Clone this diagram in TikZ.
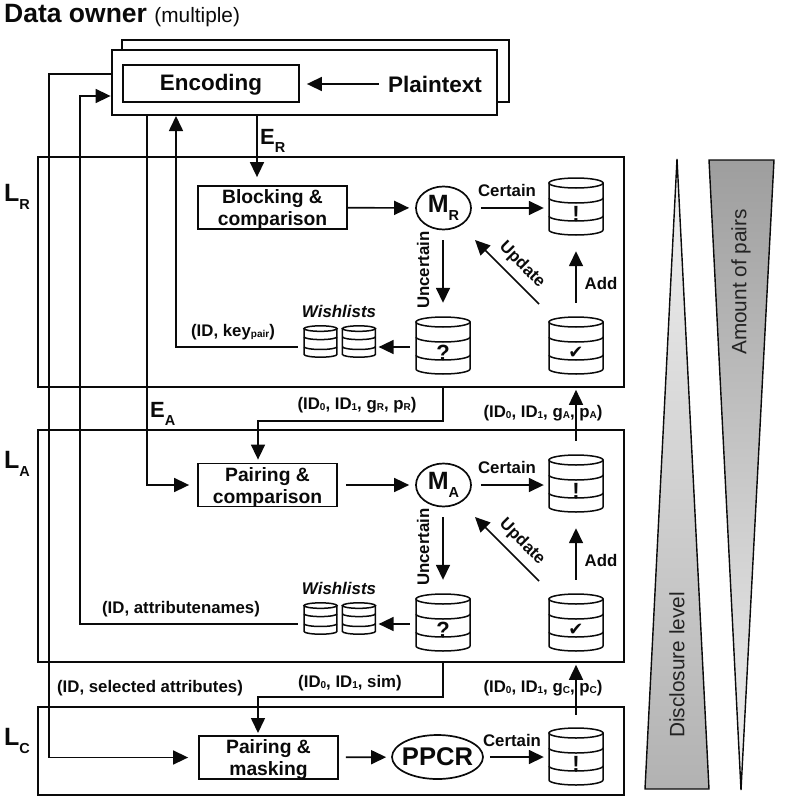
\documentclass[tikz,border=0pt]{standalone}
\usepackage{fontspec}
\setmainfont{Liberation Sans}
\newfontfamily\dingfont{DejaVu Sans}
\usetikzlibrary{positioning,arrows.meta,calc,shapes.geometric}
\definecolor{ink}{RGB}{10,10,10}
\definecolor{sidetext}{RGB}{35,35,35}
\definecolor{shadelight}{RGB}{242,242,242}
\definecolor{shademid}{RGB}{178,178,178}
\definecolor{shadedark}{RGB}{158,158,158}
\newcommand{\lowtag}[1]{\raisebox{-1.5pt}{\fontsize{10}{10}\selectfont #1}}
\newcommand{\lowbig}[1]{\raisebox{-8pt}{\fontsize{14.5}{14.5}\selectfont #1}}
\tikzset{
  x=1pt, y=-1pt,
  pane/.style={draw=ink, fill=white, line width=2.8pt, inner sep=0pt},
  layerbox/.style={draw=ink, line width=2.8pt, inner sep=0pt},
  box/.style={draw=ink, fill=white, line width=1.8pt, inner sep=0pt},
  boxtext/.style={align=center, inner sep=0pt, text=ink, yshift=-2.5pt,
    font=\fontsize{19.3}{22}\selectfont\bfseries},
  merger/.style={ellipse, draw=ink, fill=white, line width=1.7pt, inner sep=0pt,
    text=ink, font=\fontsize{25}{25}\selectfont\bfseries},
  dbnode/.style={inner sep=0pt, minimum width=54, minimum height=67},
  wishnode/.style={inner sep=0pt, minimum width=33, minimum height=37},
  dbmark/.style={inner sep=0pt, text=ink, yshift=-7pt,
    font=\fontsize{22}{22}\selectfont\bfseries},
  tag/.style={inner sep=0pt, text=ink, font=\fontsize{16.8}{18}\selectfont\bfseries},
  bigtag/.style={inner sep=0pt, text=ink, anchor=base west,
    font=\fontsize{25}{25}\selectfont\bfseries},
  sidetag/.style={inner sep=0pt, text=sidetext, rotate=90,
    font=\fontsize{20.8}{22}\selectfont},
  tri/.style={draw=ink, line width=1.4pt, line join=miter},
  flow/.style={-{Triangle[length=15pt,width=14pt]}, line width=1.6pt, draw=ink},
  storeline/.style={draw=ink, fill=white, line width=1.5pt},
  pics/store/.style={code={
    \draw[storeline] (-27,-23.5) -- (-27,23.5)
      arc[start angle=180,end angle=0,x radius=27,y radius=5] -- (27,-23.5) -- cycle;
    \draw[storeline] (0,-23.5) ellipse [x radius=27,y radius=5];
    \draw[storeline, fill=none] (-27,-8.5) arc[start angle=180,end angle=0,x radius=27,y radius=5];
    \draw[storeline, fill=none] (-27,9.5) arc[start angle=180,end angle=0,x radius=27,y radius=5];
  }},
}
\begin{document}
\begin{tikzpicture}
  \useasboundingbox (0,0) rectangle (784,800);
  % data owner
  \node[bigtag, font=\fontsize{26.5}{28}\selectfont\bfseries] (dow) at (4,22.5) {Data owner};
  \node[inner sep=0pt, text=ink, font=\fontsize{20.8}{21}\selectfont, base right=7pt of dow] (dowm) {(multiple)};
  \node[pane, minimum width=387, minimum height=62] (back) at (315.5,71) {};
  \node[pane, minimum width=385, minimum height=65] (front) at (304.5,82.5) {};
  \node[box, minimum width=176, minimum height=37] (enc) at (211,83.5) {};
  \node[boxtext, yshift=1pt, font=\fontsize{22.4}{24}\selectfont\bfseries] (enct) at (enc) {Encoding};
  \node[tag, font=\fontsize{22.5}{24}\selectfont\bfseries] (pt) at (435,84) {Plaintext};
  \draw[flow, shorten <=9pt, shorten >=7pt] (pt.west) -- (pt.west -| enc.east);
  % layers
  \node[layerbox, minimum width=586, minimum height=230] (lr) at (331,272) {};
  \node[layerbox, minimum width=586, minimum height=232] (la) at (331,546) {};
  \node[layerbox, minimum width=586, minimum height=88] (lc) at (331,751) {};
  \node[bigtag] (nr) at (4,201) {L\lowbig{R}};
  \node[bigtag] (na) at (4,468) {L\lowbig{A}};
  \node[bigtag] (nc) at (4,745) {L\lowbig{C}};
  % record level
  \node[box, minimum width=149, minimum height=43] (bc) at (272.5,207.5) {};
  \node[boxtext] (bct) at (bc) {Blocking \&\\comparison};
  \node[merger, minimum width=55, minimum height=43] (mr) at (443.5,208) {M\lowbig{R}};
  \node[dbnode] (cr) at (576,206.5) {};
  \node[dbnode] (qr) at (443,345.5) {};
  \node[dbnode] (kr) at (576,345.5) {};
  \node[wishnode] (wr1) at (320.5,341.5) {};
  \node[wishnode, right=5pt of wr1] (wr2) {};
  \pic at (cr) {store};
  \pic at (qr) {store};
  \pic at (kr) {store};
  \pic[xscale=.61, yscale=.55] at (wr1) {store};
  \pic[xscale=.61, yscale=.55] at (wr2) {store};
  \node[dbmark] (cr0) at (cr) {!};
  \node[dbmark] (qr0) at (qr) {?};
  \node[dbmark, font=\dingfont\fontsize{18}{18}\selectfont] (kr0) at (kr) {✔};
  \node[tag, font=\fontsize{16.9}{18}\selectfont\bfseries\itshape] (wrt) at (339,311) {Wishlists};
  \node[tag] (crt) at (507,190) {Certain};
  \node[tag, rotate=90] (qrt) at (423,270) {Uncertain};
  \node[tag, rotate=-45] (upr) at (522,265) {Update};
  \node[tag] (addr) at (601,283) {Add};
  \node[tag] (krt) at (233,332) {(ID, key\lowtag{pair})};
  \coordinate (wy) at (0,347);
  \coordinate (railk) at (176,116);
  \coordinate (ur1) at (539,304);
  \coordinate (ur2) at (475,240);
  \draw[flow, shorten >=8pt] (front.south -| 257,0) -- (bc.north -| 257,0);
  \draw[flow, shorten >=6pt] (bc) -- (mr);
  \draw[flow, shorten <=9pt, shorten >=5pt] (mr) -- (cr.west |- mr);
  \draw[flow, shorten <=10pt, shorten >=9pt] (mr.south -| qr) -- (qr.north);
  \draw[flow, shorten <=6pt, shorten >=3pt] (qr.west |- wy) -- (wr2.east |- wy);
  \draw[flow, shorten <=9pt, shorten >=11pt] (kr.north) -- (cr.south);
  \draw[flow] (ur1) -- (ur2);
  \draw[flow, shorten <=6pt] (wr1.west |- wy) -- (wy -| railk) -- (railk);
  % attribute level
  \node[tag, font=\fontsize{22}{22}\selectfont\bfseries, anchor=base west] (er) at (260,144.5) {E\lowbig{R}};
  \node[tag, font=\fontsize{22}{22}\selectfont\bfseries, anchor=base west] (ea) at (150,417) {E\lowbig{A}};
  \node[box, minimum width=139, minimum height=43] (pa) at (267.5,485) {};
  \node[boxtext] (pat) at (pa) {Pairing \&\\comparison};
  \node[merger, minimum width=55, minimum height=43] (ma) at (443.5,485) {M\lowbig{A}};
  \node[dbnode] (ca) at (576,483.5) {};
  \node[dbnode] (qa) at (443,622.5) {};
  \node[dbnode] (ka) at (576,622.5) {};
  \node[wishnode] (wa1) at (320.5,618.5) {};
  \node[wishnode, right=5pt of wa1] (wa2) {};
  \pic at (ca) {store};
  \pic at (qa) {store};
  \pic at (ka) {store};
  \pic[xscale=.61, yscale=.55] at (wa1) {store};
  \pic[xscale=.61, yscale=.55] at (wa2) {store};
  \node[dbmark] (ca0) at (ca) {!};
  \node[dbmark] (qa0) at (qa) {?};
  \node[dbmark, font=\dingfont\fontsize{18}{18}\selectfont] (ka0) at (ka) {✔};
  \node[tag, font=\fontsize{16.9}{18}\selectfont\bfseries\itshape] (wat) at (339,588) {Wishlists};
  \node[tag] (cat) at (507,467) {Certain};
  \node[tag, rotate=90] (qat) at (423,547) {Uncertain};
  \node[tag, rotate=-45] (upa) at (522,542) {Update};
  \node[tag] (adda) at (601,560) {Add};
  \node[tag] (kat) at (181,609) {(ID, attributenames)};
  \coordinate (wz) at (0,624);
  \coordinate (raila) at (80,96);
  \coordinate (ua1) at (539,581);
  \coordinate (ua2) at (475,517);
  \draw[flow, shorten <=8pt, shorten >=6pt] (pa) -- (ma);
  \draw[flow, shorten <=9pt, shorten >=5pt] (ma) -- (ca.west |- ma);
  \draw[flow, shorten <=10pt, shorten >=9pt] (ma.south -| qa) -- (qa.north);
  \draw[flow, shorten <=6pt, shorten >=3pt] (qa.west |- wz) -- (wa2.east |- wz);
  \draw[flow, shorten <=9pt, shorten >=11pt] (ka.north) -- (ca.south);
  \draw[flow] (ua1) -- (ua2);
  \draw[flow, shorten <=6pt] (wa1.west |- wz) -- (wz -| raila) -- (raila) -- (raila -| front.west);
  \coordinate (raile) at (147,115);
  \draw[flow, shorten >=8pt] (raile) -- (raile |- pa) -- (pa);
  % between layers
  \node[tag] (gr) at (357,405) {(ID\lowtag{0}, ID\lowtag{1}, g\lowtag{R}, p\lowtag{R})};
  \node[tag] (ga) at (543,413) {(ID\lowtag{0}, ID\lowtag{1}, g\lowtag{A}, p\lowtag{A})};
  \node[tag] (gs) at (350,683) {(ID\lowtag{0}, ID\lowtag{1}, sim)};
  \node[tag] (gc) at (543,688) {(ID\lowtag{0}, ID\lowtag{1}, g\lowtag{C}, p\lowtag{C})};
  \node[tag] (sel) at (150,688) {(ID, selected attributes)};
  \coordinate (ta) at (258,421);
  \coordinate (tc) at (258,697);
  \draw[flow, shorten >=3pt] (lr.south -| qr) |- (ta) -- (ta |- pa.north);
  \draw[flow, shorten >=3pt] (la.south -| qa) |- (tc) -- (tc |- 0,736);
  \draw[flow, shorten <=9pt, shorten >=1.4pt] (ca.north) -- (lr.south -| ca);
  % cleartext level
  \node[box, minimum width=139, minimum height=43] (pm) at (268.5,757.5) {};
  \node[boxtext] (pmt) at (pm) {Pairing \&\\masking};
  \node[merger, minimum width=91, minimum height=44] (ppcr) at (437.5,757) {};
  \node[bigtag, anchor=center, font=\fontsize{25.6}{26}\selectfont\bfseries] (ppcrt) at (ppcr) {PPCR};
  \node[dbnode] (cc) at (576,756.5) {};
  \pic at (cc) {store};
  \node[dbmark] (cc0) at (cc) {!};
  \node[tag] (cct) at (512,740) {Certain};
  \coordinate (fo) at (112,74);
  \coordinate (rails) at (49,74);
  \draw[flow, shorten >=10pt] (fo) -- (rails) -- (rails |- pm) -- (pm);
  \draw[flow, shorten <=7pt, shorten >=5pt] (pm) -- (ppcr);
  \draw[flow, shorten <=6pt, shorten >=5pt] (ppcr) -- (cc.west |- ppcr);
  \draw[flow, shorten <=8pt, shorten >=1.4pt] (cc.north) -- (la.south -| cc);
  % side wedges
  \shade[tri, top color=shadelight, bottom color=shademid] (677,159) -- (709,789) -- (645,789) -- cycle;
  \shade[tri, top color=shadedark, bottom color=shadelight] (709,160) -- (774,160) -- (741,790) -- cycle;
  \node[sidetag] (disc) at (677,665) {Disclosure level};
  \node[sidetag] (amt) at (741,282) {Amount of pairs};
\end{tikzpicture}
\end{document}
